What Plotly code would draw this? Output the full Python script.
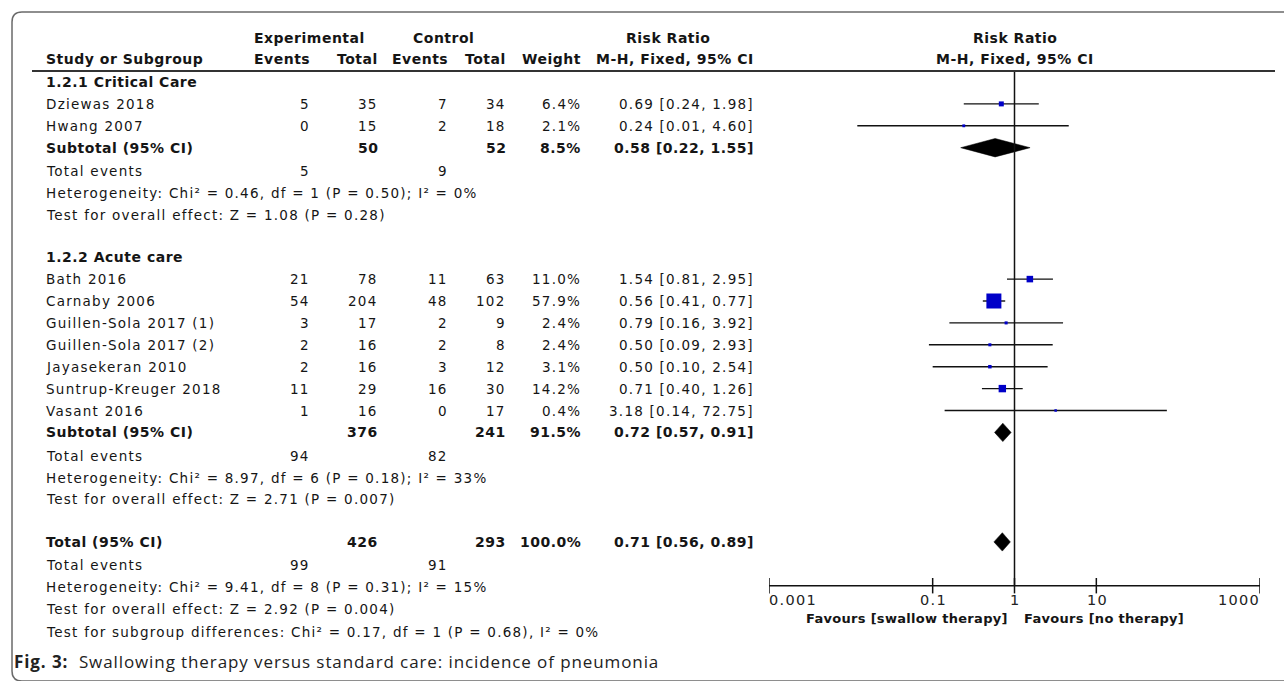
import math
import plotly.graph_objects as go

# ---------------- data ----------------
groups = ["1.2.1 Critical Care", "1.2.2 Acute care"]
studies = ["Dziewas 2018", "Hwang 2007", "Bath 2016", "Carnaby 2006",
           "Guillen-Sola 2017 (1)", "Guillen-Sola 2017 (2)", "Jayasekeran 2010",
           "Suntrup-Kreuger 2018", "Vasant 2016"]
study_group = [0, 0, 1, 1, 1, 1, 1, 1, 1]
exp_events = [5, 0, 21, 54, 3, 2, 2, 11, 1]
exp_total = [35, 15, 78, 204, 17, 16, 16, 29, 16]
ctl_events = [7, 2, 11, 48, 2, 2, 3, 16, 0]
ctl_total = [34, 18, 63, 102, 9, 8, 12, 30, 17]
weights = [6.4, 2.1, 11.0, 57.9, 2.4, 2.4, 3.1, 14.2, 0.4]
rr = [0.69, 0.24, 1.54, 0.56, 0.79, 0.50, 0.50, 0.71, 3.18]
ci_lo = [0.24, 0.012, 0.81, 0.41, 0.16, 0.09, 0.10, 0.40, 0.14]
ci_hi = [1.98, 4.60, 2.95, 0.77, 3.92, 2.93, 2.54, 1.26, 72.75]

pooled_labels = ["Subtotal (95% CI)", "Subtotal (95% CI)", "Total (95% CI)"]
pooled_exp_total = [50, 376, 426]
pooled_ctl_total = [52, 241, 293]
pooled_weight = [8.5, 91.5, 100.0]
pooled_rr = [0.58, 0.72, 0.71]
pooled_lo = [0.22, 0.57, 0.56]
pooled_hi = [1.55, 0.91, 0.89]
pooled_exp_events = [5, 94, 99]
pooled_ctl_events = [9, 82, 91]
het_texts = ["Heterogeneity: Chi² = 0.46, df = 1 (P = 0.50); I² = 0%",
             "Heterogeneity: Chi² = 8.97, df = 6 (P = 0.18); I² = 33%",
             "Heterogeneity: Chi² = 9.41, df = 8 (P = 0.31); I² = 15%"]
test_texts = ["Test for overall effect: Z = 1.08 (P = 0.28)",
              "Test for overall effect: Z = 2.71 (P = 0.007)",
              "Test for overall effect: Z = 2.92 (P = 0.004)"]
subgroup_text = "Test for subgroup differences: Chi² = 0.17, df = 1 (P = 0.68), I² = 0%"

tick_vals = [0.001, 0.1, 1, 10, 1000]
tick_labels = ["0.001", "0.1", "1", "10", "1000"]
favours_left = "Favours [swallow therapy]"
favours_right = "Favours [no therapy]"
caption_bold = "Fig. 3:"
caption_text = "Swallowing therapy versus standard care: incidence of pneumonia"

# ---------------- layout constants ----------------
W, H = 1284, 681
ROW_PX = 21.9
ROW0_PX = 82.0
FONT = "DejaVu Sans"
FS = 13.5
FS_BOLD = 14
LS_REG = 1.25
LS_BOLD = 0.5
TXT = "#151515"


def px(x):
    return x / W


# row layout (row units)
study_rows = []
group_hdr_rows = []
pooled_rows = []
te_rows, het_rows, test_rows = [], [], []
r = 0
for g in range(len(groups)):
    group_hdr_rows.append(r)
    r += 1
    for i, sg in enumerate(study_group):
        if sg == g:
            study_rows.append(r)
            r += 1
    pooled_rows.append(r)
    te_rows.append(r + 1.08)
    het_rows.append(r + 2.08)
    test_rows.append(r + 3.06)
    r += 5
pooled_rows.append(r)
te_rows.append(r + 1.05)
het_rows.append(r + 2.05)
test_rows.append(r + 3.05)
subgroup_row = r + 4.1
axis_row = 23.0
ticklabel_row = axis_row + 0.66
favours_row = axis_row + 1.5
caption_row = (661 - ROW0_PX) / ROW_PX

# column x positions (pixels)
NAME_X = 44
EXP_EV_X = 312
EXP_TOT_X = 380
CTL_EV_X = 450
CTL_TOT_X = 508
WEIGHT_X = 583
CI_X = 756

fig = go.Figure()

# CI lines
lx, ly = [], []
for lo, hi, rw in zip(ci_lo, ci_hi, study_rows):
    lx += [lo, hi, None]
    ly += [rw, rw, None]
fig.add_trace(go.Scatter(x=lx, y=ly, mode="lines",
                         line=dict(color="#111111", width=1.4), hoverinfo="skip"))

# squares
sizes = [max(2.5, 15 * math.sqrt(w / max(weights))) for w in weights]
fig.add_trace(go.Scatter(x=rr, y=study_rows, mode="markers",
                         marker=dict(symbol="square", size=sizes, color="#0000c8", opacity=1,
                                     line=dict(width=0)), hoverinfo="skip"))

# diamonds
HALF = 0.42
for est, lo, hi, rw in zip(pooled_rr, pooled_lo, pooled_hi, pooled_rows):
    fig.add_trace(go.Scatter(x=[lo, est, hi, est, lo], y=[rw, rw - HALF, rw, rw + HALF, rw],
                             mode="lines", fill="toself", fillcolor="black",
                             line=dict(color="black", width=0.5), hoverinfo="skip"))

# null line
fig.add_trace(go.Scatter(x=[1, 1], y=[-0.5, axis_row], mode="lines",
                         line=dict(color="#111111", width=1.5), hoverinfo="skip"))

# axis line + ticks
fig.add_trace(go.Scatter(x=[tick_vals[0], tick_vals[-1]], y=[axis_row, axis_row], mode="lines",
                         line=dict(color="#111111", width=1.5), hoverinfo="skip"))
fig.add_trace(go.Scatter(x=tick_vals, y=[axis_row] * len(tick_vals), mode="markers",
                         marker=dict(symbol="line-ns", size=11,
                                     line=dict(color="#111111", width=1.5)),
                         hoverinfo="skip"))

ann = []


def add_text(x, y, text, anchor="left", bold=False, size=None, xref="paper", xshift=0,
             font=FONT, color=TXT, ls=None):
    if ls is None:
        ls = LS_BOLD if bold else LS_REG
    if size is None:
        size = FS_BOLD if bold else FS
    body = f"<b>{text}</b>" if bold else text
    ann.append(dict(x=x, y=y, xref=xref, yref="y",
                    text=f'<span style="letter-spacing:{ls}px">{body}</span>',
                    showarrow=False, xanchor=anchor, yanchor="middle", xshift=xshift,
                    font=dict(family=font, size=size, color=color)))


# headers
add_text(px(309), -2.0, "Experimental", "center", True)
add_text(px(443), -2.0, "Control", "center", True)
add_text(px(668), -2.0, "Risk Ratio", "center", True)
add_text(px(1015), -2.0, "Risk Ratio", "center", True)
add_text(px(NAME_X), -1.03, "Study or Subgroup", "left", True)
add_text(px(EXP_EV_X), -1.03, "Events", "right", True)
add_text(px(EXP_TOT_X), -1.03, "Total", "right", True)
add_text(px(CTL_EV_X), -1.03, "Events", "right", True)
add_text(px(CTL_TOT_X), -1.03, "Total", "right", True)
add_text(px(WEIGHT_X), -1.03, "Weight", "right", True)
add_text(px(CI_X), -1.03, "M-H, Fixed, 95% CI", "right", True)
add_text(px(1015), -1.03, "M-H, Fixed, 95% CI", "center", True)

for g, rw in zip(groups, group_hdr_rows):
    add_text(px(NAME_X), rw, g, "left", True)

for i, rw in enumerate(study_rows):
    add_text(px(NAME_X), rw, studies[i])
    add_text(px(EXP_EV_X), rw, str(exp_events[i]), "right")
    add_text(px(EXP_TOT_X), rw, str(exp_total[i]), "right")
    add_text(px(CTL_EV_X), rw, str(ctl_events[i]), "right")
    add_text(px(CTL_TOT_X), rw, str(ctl_total[i]), "right")
    add_text(px(WEIGHT_X), rw, f"{weights[i]:.1f}%", "right")
    add_text(px(CI_X), rw, f"{rr[i]:.2f} [{ci_lo[i]:.2f}, {ci_hi[i]:.2f}]", "right")

for k, rw in enumerate(pooled_rows):
    add_text(px(NAME_X), rw, pooled_labels[k], "left", True)
    add_text(px(EXP_TOT_X), rw, str(pooled_exp_total[k]), "right", True)
    add_text(px(CTL_TOT_X), rw, str(pooled_ctl_total[k]), "right", True)
    add_text(px(WEIGHT_X), rw, f"{pooled_weight[k]:.1f}%", "right", True)
    add_text(px(CI_X), rw, f"{pooled_rr[k]:.2f} [{pooled_lo[k]:.2f}, {pooled_hi[k]:.2f}]",
             "right", True)
    add_text(px(NAME_X), te_rows[k], "Total events")
    add_text(px(EXP_EV_X), te_rows[k], str(pooled_exp_events[k]), "right")
    add_text(px(CTL_EV_X), te_rows[k], str(pooled_ctl_events[k]), "right")
    add_text(px(NAME_X), het_rows[k], het_texts[k])
    add_text(px(NAME_X), test_rows[k], test_texts[k])
add_text(px(NAME_X), subgroup_row, subgroup_text)

# tick labels
for i, (v, lab) in enumerate(zip(tick_vals, tick_labels)):
    anchor = "left" if i == 0 else ("right" if i == len(tick_vals) - 1 else "center")
    shift = -2 if i == 0 else (2 if i == len(tick_vals) - 1 else 1)
    add_text(math.log10(v), ticklabel_row, lab, anchor, xref="x", size=14.5, ls=1.3,
             xshift=shift, color="#222222")

add_text(0, favours_row, favours_left, "right", True, xref="x", xshift=-5, size=13, ls=0.3)
add_text(0, favours_row, favours_right, "left", True, xref="x", xshift=7, size=13, ls=0.3)

# caption
ann.append(dict(x=px(12), y=caption_row, xref="paper", yref="y",
                text=(f'<span style="letter-spacing:0.9px"><b>{caption_bold}</b>  '
                      f'{caption_text}</span>'),
                showarrow=False, xanchor="left", yanchor="middle",
                font=dict(family="Open Sans", size=17, color="#222222")))

# frame + header rule
R = 10
x0, y0, y1 = 12, 12, 681


def P(x, y):
    return f"{x / W:.5f},{1 - y / H:.5f}"


frame_path = (f"M {P(W + 5, y0)} L {P(x0 + R, y0)} Q {P(x0, y0)} {P(x0, y0 + R)} "
              f"L {P(x0, y1 - R)} Q {P(x0, y1)} {P(x0 + R, y1)} L {P(W + 5, y1)}")
shapes = [
    dict(type="path", xref="paper", yref="paper", path=frame_path,
         line=dict(color="#6a6a6a", width=1.5)),
    dict(type="line", xref="paper", yref="y", x0=px(32), x1=px(1275), y0=-0.5, y1=-0.5,
         line=dict(color="#333333", width=2)),
]

fig.update_layout(
    width=W, height=H,
    margin=dict(l=0, r=0, t=0, b=0),
    paper_bgcolor="white", plot_bgcolor="rgba(0,0,0,0)",
    showlegend=False, hovermode=False,
    xaxis=dict(type="log", range=[-3, 3], domain=[769 / W, 1260 / W], visible=False,
               fixedrange=True),
    yaxis=dict(range=[(H - ROW0_PX) / ROW_PX, -ROW0_PX / ROW_PX], domain=[0, 1],
               visible=False, fixedrange=True),
    annotations=ann,
    shapes=shapes,
)

fig.write_html("out.html", config={"displayModeBar": False},
               post_script="document.body.style.margin='0';document.body.style.overflow='hidden';")
